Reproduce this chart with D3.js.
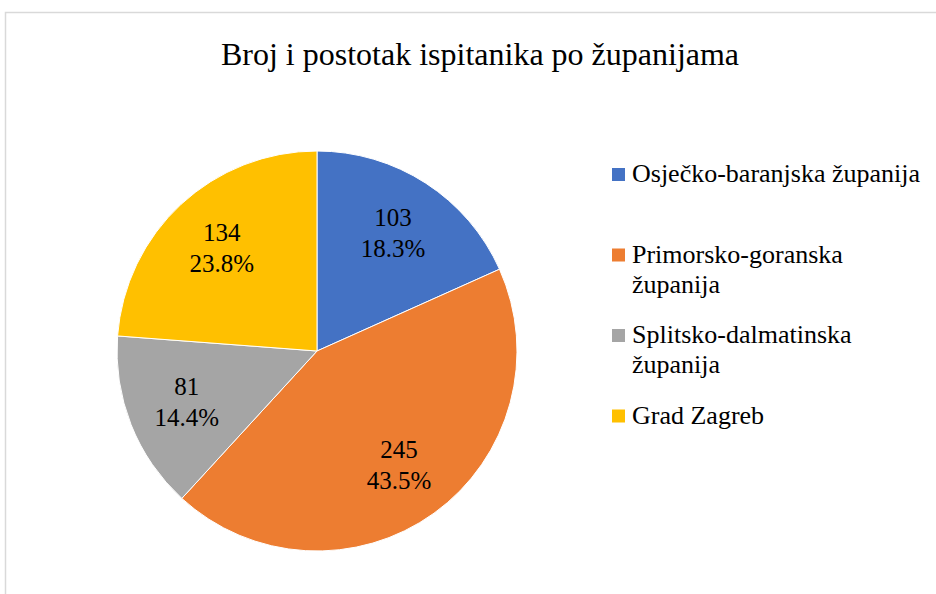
<!DOCTYPE html>
<html lang="hr">
  <head>
    <script src="https://d3js.org/d3.v7.min.js"></script>
    <meta charset="UTF-8" />
    <title>Broj i postotak ispitanika po županijama</title>
    <style>
      body { margin: 0; background: #fff; }
    </style>
  </head>
  <body>
    <svg width="936" height="594"></svg>
    <script>
      // podaci
      var categories = [
        "Osječko-baranjska županija",
        "Primorsko-goranska županija",
        "Splitsko-dalmatinska županija",
        "Grad Zagreb"
      ];
      // legenda prelomljena kao u originalu
      var legendLines = [
        ["Osječko-baranjska županija"],
        ["Primorsko-goranska", "županija"],
        ["Splitsko-dalmatinska", "županija"],
        ["Grad Zagreb"]
      ];
      var counts = [103, 245, 81, 134];
      var percents = ["18.3%", "43.5%", "14.4%", "23.8%"];
      var colors = ["#4472C4", "#ED7D31", "#A5A5A5", "#FFC000"];

      var serif = "'Liberation Serif', 'Times New Roman', 'DejaVu Serif', serif";
      var svg = d3.select("svg");

      // okvir grafikona
      svg.append("rect")
        .attr("x", 5.5)
        .attr("y", 12.5)
        .attr("width", 960)
        .attr("height", 620)
        .attr("fill", "none")
        .attr("stroke", "#d9d9d9")
        .attr("stroke-width", 1.5);

      svg.append("text")
        .attr("x", 480)
        .attr("y", 65)
        .attr("text-anchor", "middle")
        .attr("font-family", serif)
        .attr("font-size", "32px")
        .text("Broj i postotak ispitanika po županijama");

      var cx = 317, cy = 351, radius = 200;
      var g = svg.append("g").attr("transform", "translate(" + cx + "," + cy + ")");

      var data = categories.map(function (c, i) {
        return { name: c, value: counts[i], pct: percents[i], color: colors[i] };
      });

      var pie = d3.pie().sort(null).value(function (d) { return d.value; });
      var arc = d3.arc().innerRadius(0).outerRadius(radius);
      var labelArc = d3.arc().innerRadius(radius * 0.7).outerRadius(radius * 0.7);

      var arcs = pie(data);

      g.selectAll(".slice")
        .data(arcs)
        .enter()
        .append("path")
        .attr("class", "slice")
        .attr("d", arc)
        .attr("fill", function (d) { return d.data.color; })
        .attr("stroke", "#fff")
        .attr("stroke-width", 1);

      var labels = g.selectAll(".lbl")
        .data(arcs)
        .enter()
        .append("text")
        .attr("class", "lbl")
        .attr("text-anchor", "middle")
        .attr("font-family", serif)
        .attr("font-size", "25px")
        .attr("transform", function (d) {
          var c = labelArc.centroid(d);
          return "translate(" + c[0] + "," + c[1] + ")";
        });
      labels.append("tspan").attr("x", 0).attr("y", -7).text(function (d) { return d.data.value; });
      labels.append("tspan").attr("x", 0).attr("y", 24).text(function (d) { return d.data.pct; });

      // legenda
      var legend = svg.append("g").attr("transform", "translate(612,182)");
      var item = legend.selectAll(".item")
        .data(data)
        .enter()
        .append("g")
        .attr("class", "item")
        .attr("transform", function (d, i) { return "translate(0," + i * 80.5 + ")"; });

      item.append("rect")
        .attr("x", 0)
        .attr("y", -14)
        .attr("width", 13)
        .attr("height", 13)
        .attr("fill", function (d) { return d.color; });

      item.each(function (d, i) {
        var t = d3.select(this).append("text")
          .attr("font-family", serif)
          .attr("font-size", "26px");
        legendLines[i].forEach(function (line, j) {
          t.append("tspan").attr("x", 20).attr("y", j * 30).text(line);
        });
      });
    </script>
  </body>
</html>
